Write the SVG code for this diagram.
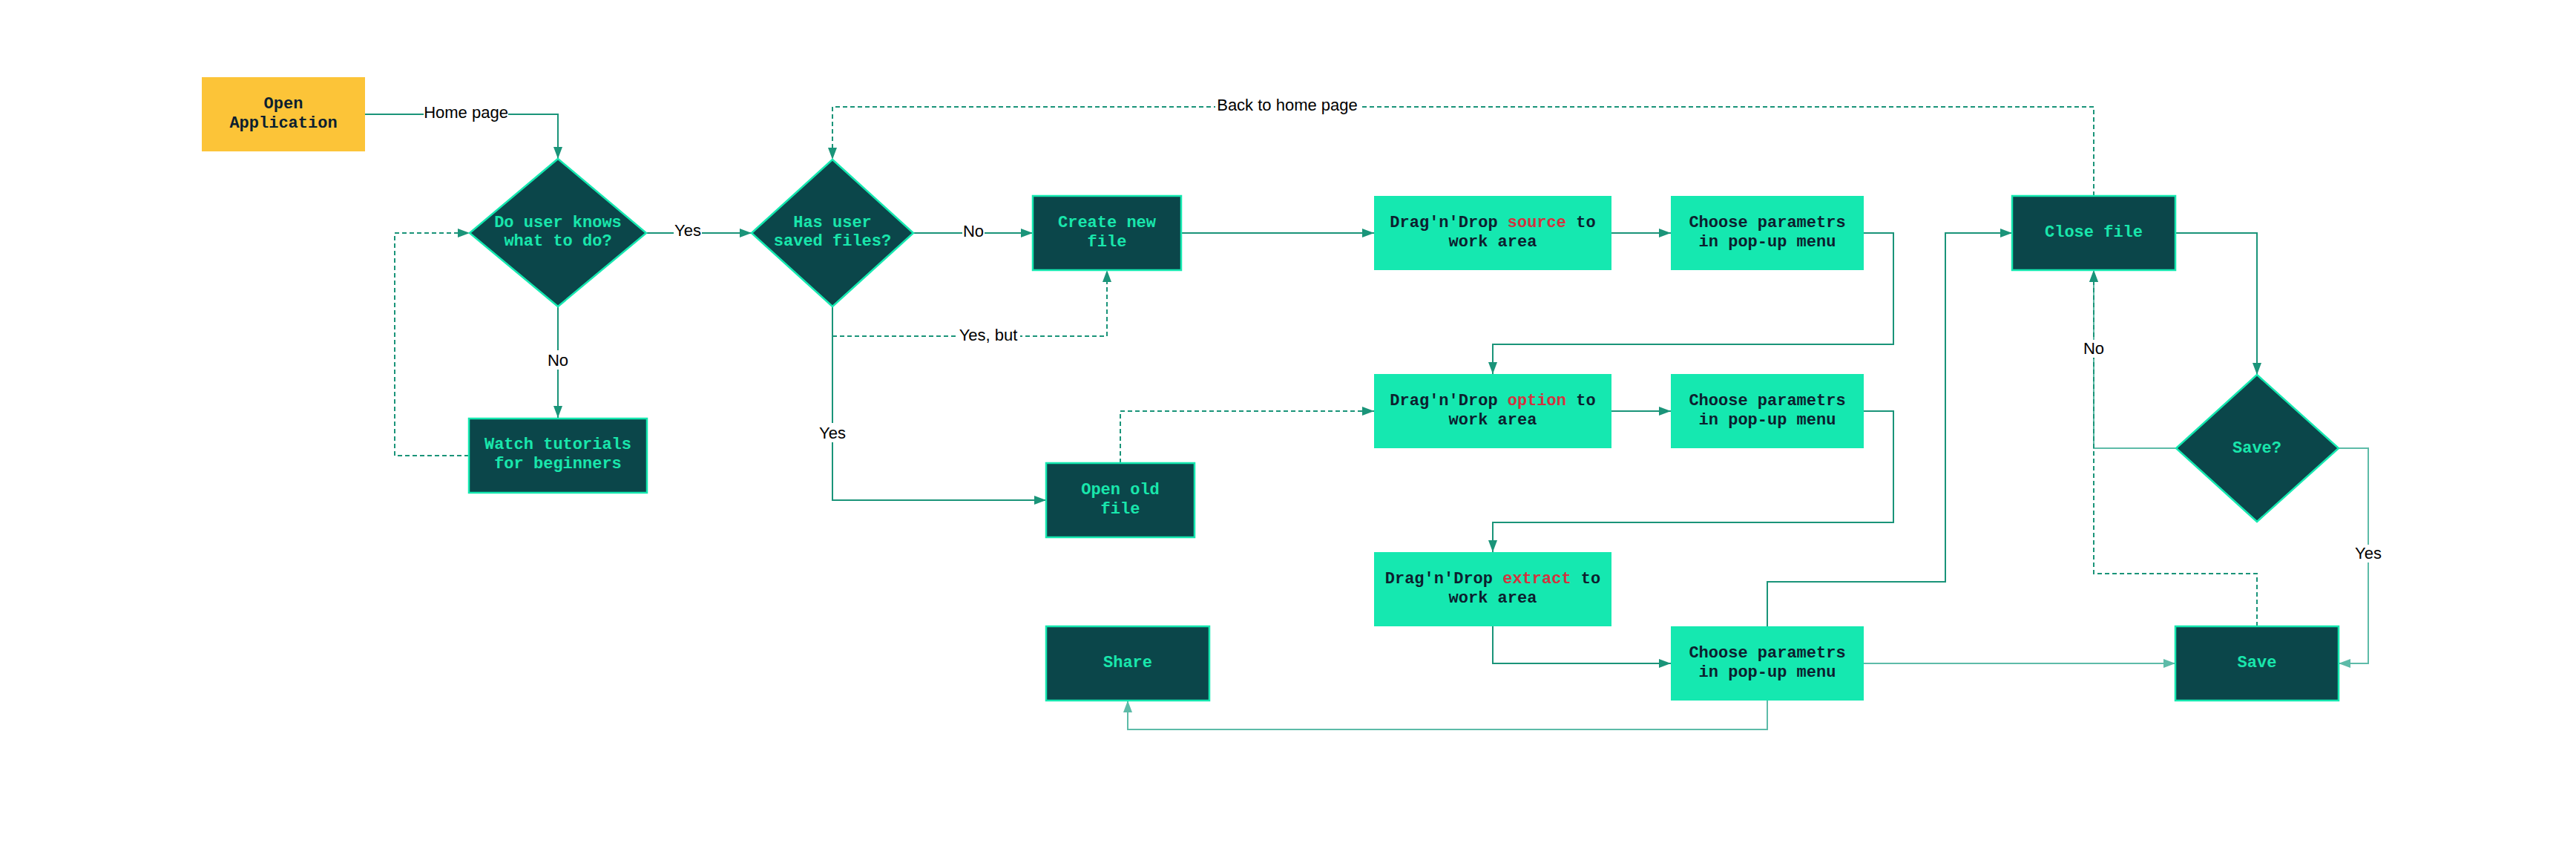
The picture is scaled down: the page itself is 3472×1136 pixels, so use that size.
<svg xmlns="http://www.w3.org/2000/svg" width="3472" height="1136" viewBox="0 0 3472 1136">
<defs>
<style>
.dk{fill:#0B464A;stroke:#15E8B0;stroke-width:2.5}
.lt{fill:#15E8B0;stroke:none}
.yl{fill:#FCC438;stroke:none}
.nt{font-family:"Liberation Mono","DejaVu Sans Mono",monospace;font-size:22px;font-weight:bold;text-anchor:middle}
.tg{fill:#19E6AC}
.td{fill:#0C1F2F}
.red{fill:#D1343F}
.c{fill:none;stroke:#1A9479;stroke-width:2}
.cl{fill:none;stroke:#5DBBA8;stroke-width:2}
.d{stroke-dasharray:6 4}
.lb{font-family:"Liberation Sans",Arial,sans-serif;font-size:22px;fill:#000;text-anchor:middle}
</style>
<marker id="a" markerUnits="userSpaceOnUse" markerWidth="16" markerHeight="12" refX="16" refY="6" orient="auto"><path d="M0,0 L16,6 L0,12 z" fill="#1A9479"/></marker>
<marker id="al" markerUnits="userSpaceOnUse" markerWidth="16" markerHeight="12" refX="16" refY="6" orient="auto"><path d="M0,0 L16,6 L0,12 z" fill="#5DBBA8"/></marker>
</defs>
<rect width="3472" height="1136" fill="#fff"/>
<g id="connectors">
<path class="c" d="M492,154 H752 V214" marker-end="url(#a)"/>
<path class="c" d="M871,314 H1013" marker-end="url(#a)"/>
<path class="c" d="M752,412 V563" marker-end="url(#a)"/>
<path class="c d" d="M632,614 H532 V314 H633" marker-end="url(#a)"/>
<path class="c" d="M1231,314 H1392" marker-end="url(#a)"/>
<path class="c" d="M1122,412 V674 H1410" marker-end="url(#a)"/>
<path class="c d" d="M1122,453 H1492 V364" marker-end="url(#a)"/>
<path class="c" d="M1592,314 H1852" marker-end="url(#a)"/>
<path class="c" d="M2172,314 H2252" marker-end="url(#a)"/>
<path class="c" d="M2512,314 H2552 V464 H2012 V504" marker-end="url(#a)"/>
<path class="c d" d="M1510,624 V554 H1852" marker-end="url(#a)"/>
<path class="c" d="M2172,554 H2252" marker-end="url(#a)"/>
<path class="c" d="M2512,554 H2552 V704 H2012 V744" marker-end="url(#a)"/>
<path class="c" d="M2012,844 V894 H2252" marker-end="url(#a)"/>
<path class="c" d="M2382,844 V784 H2622 V314 H2712" marker-end="url(#a)"/>
<path class="c" d="M2932,314 H3042 V505" marker-end="url(#a)"/>
<path class="c d" d="M2822,264 V144 H1122 V215" marker-end="url(#a)"/>
<path class="cl" d="M2933,604 H2822 V364" marker-end="url(#al)"/>
<path class="c d" d="M3042,844 V773 H2822 V364" marker-end="url(#a)"/>
<path class="cl" d="M3152,604 H3192 V894 H3152" marker-end="url(#al)"/>
<path class="cl" d="M2512,894 H2932" marker-end="url(#al)"/>
<path class="cl" d="M2382,944 V983 H1520 V944" marker-end="url(#al)"/>
<g id="labels">
<rect x="571" y="140" width="114" height="24" fill="#fff"/><text class="lb" x="628" y="159">Home page</text>
<rect x="908" y="300" width="38" height="24" fill="#fff"/><text class="lb" x="927" y="318">Yes</text>
<rect x="737" y="472" width="30" height="26" fill="#fff"/><text class="lb" x="752" y="493">No</text>
<rect x="1297" y="300" width="30" height="26" fill="#fff"/><text class="lb" x="1312" y="319">No</text>
<rect x="1103" y="570" width="38" height="26" fill="#fff"/><text class="lb" x="1122" y="591">Yes</text>
<rect x="1289" y="440" width="86" height="26" fill="#fff"/><text class="lb" x="1332" y="459">Yes, but</text>
<rect x="1638" y="131" width="194" height="24" fill="#fff"/><text class="lb" x="1735" y="149">Back to home page</text>
<rect x="2807" y="458" width="30" height="24" fill="#fff"/><text class="lb" x="2822" y="477">No</text>
<rect x="3173" y="734" width="38" height="24" fill="#fff"/><text class="lb" x="3192" y="753">Yes</text>
</g>
</g>
<g id="open-application"><rect class="yl" x="272" y="104" width="220" height="100"/><text class="nt td" x="382" y="146">Open<tspan x="382" dy="26">Application</tspan></text></g>
<g id="do-user-knows"><path class="dk" d="M752,214 L871,314 L752,413 L633,314 Z"/><text class="nt tg" x="752" y="306">Do user knows<tspan x="752" dy="25">what to do?</tspan></text></g>
<g id="watch-tutorials"><rect class="dk" x="632" y="564" width="240" height="100"/><text class="nt tg" x="752" y="605">Watch tutorials<tspan x="752" dy="26">for beginners</tspan></text></g>
<g id="has-saved-files"><path class="dk" d="M1122,215 L1231,314 L1122,413 L1013,314 Z"/><text class="nt tg" x="1122" y="306">Has user<tspan x="1122" dy="25">saved files?</tspan></text></g>
<g id="create-new-file"><rect class="dk" x="1392" y="264" width="200" height="100"/><text class="nt tg" x="1492" y="306">Create new<tspan x="1492" dy="26">file</tspan></text></g>
<g id="open-old-file"><rect class="dk" x="1410" y="624" width="200" height="100"/><text class="nt tg" x="1510" y="666">Open old<tspan x="1510" dy="26">file</tspan></text></g>
<g id="share"><rect class="dk" x="1410" y="844" width="220" height="100"/><text class="nt tg" x="1520" y="899">Share</text></g>
<g id="drag-source"><rect class="lt" x="1852" y="264" width="320" height="100"/><text class="nt td" x="2012" y="306">Drag'n'Drop <tspan class="red">source</tspan> to<tspan x="2012" dy="26">work area</tspan></text></g>
<g id="choose-1"><rect class="lt" x="2252" y="264" width="260" height="100"/><text class="nt td" x="2382" y="306">Choose parametrs<tspan x="2382" dy="26">in pop-up menu</tspan></text></g>
<g id="drag-option"><rect class="lt" x="1852" y="504" width="320" height="100"/><text class="nt td" x="2012" y="546">Drag'n'Drop <tspan class="red">option</tspan> to<tspan x="2012" dy="26">work area</tspan></text></g>
<g id="choose-2"><rect class="lt" x="2252" y="504" width="260" height="100"/><text class="nt td" x="2382" y="546">Choose parametrs<tspan x="2382" dy="26">in pop-up menu</tspan></text></g>
<g id="drag-extract"><rect class="lt" x="1852" y="744" width="320" height="100"/><text class="nt td" x="2012" y="786">Drag'n'Drop <tspan class="red">extract</tspan> to<tspan x="2012" dy="26">work area</tspan></text></g>
<g id="choose-3"><rect class="lt" x="2252" y="844" width="260" height="100"/><text class="nt td" x="2382" y="886">Choose parametrs<tspan x="2382" dy="26">in pop-up menu</tspan></text></g>
<g id="close-file"><rect class="dk" x="2712" y="264" width="220" height="100"/><text class="nt tg" x="2822" y="319">Close file</text></g>
<g id="save-question"><path class="dk" d="M3042,505 L3152,604 L3042,703 L2933,604 Z"/><text class="nt tg" x="3042" y="610">Save?</text></g>
<g id="save"><rect class="dk" x="2932" y="844" width="220" height="100"/><text class="nt tg" x="3042" y="899">Save</text></g>
</svg>
